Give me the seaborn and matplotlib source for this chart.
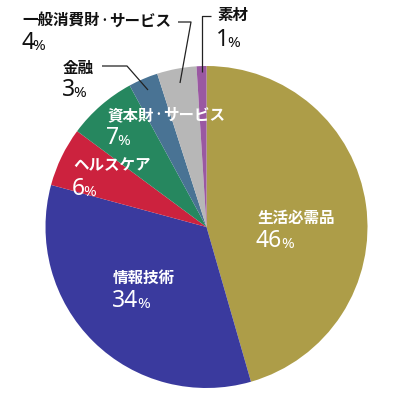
import matplotlib
matplotlib.use("Agg")
import matplotlib.pyplot as plt
import seaborn as sns

categories = ["生活必需品", "情報技術", "ヘルスケア", "資本財・サービス", "金融", "一般消費財・サービス", "素材"]
values = [46, 34, 6, 7, 3, 4, 1]
colors = ["#ad9d48", "#3a3a9e", "#cc223e", "#26875f", "#497394", "#b7b7b7", "#9a58a2"]

sns.set_theme(style="white")
plt.rcParams['font.family'] = ['Noto Sans CJK JP', 'DejaVu Sans']

W, H = 400, 396
fig = plt.figure(figsize=(W / 100, H / 100), dpi=100)
ax = fig.add_axes([0, 0, 1, 1])
ax.set_xlim(0, W)
ax.set_ylim(0, H)
ax.set_aspect('equal')
ax.axis('off')

cx, cy, r = 206.5, H - 227, 161
ax.pie(values, colors=colors, startangle=90, counterclock=False,
       center=(cx, cy), radius=r, wedgeprops=dict(linewidth=0))
ax.set_xlim(0, W)
ax.set_ylim(0, H)

# label positions (x left, name centre y, percent centre y) in pixel coords (y down)
label_pos = {
    "生活必需品": (257, 218, 241, "white"),
    "情報技術": (113, 278, 301, "white"),
    "ヘルスケア": (73, 165, 189, "white"),
    "資本財・サービス": (107, 115, 138, "white"),
    "金融": (63, 68, 90, "#111111"),
    "一般消費財・サービス": (22, 21, 43, "#111111"),
    "素材": (217, 15, 40, "#111111"),
}

fig.canvas.draw()
renderer = fig.canvas.get_renderer()
inv = ax.transData.inverted()


def right_edge(t):
    bb = t.get_window_extent(renderer=renderer)
    return inv.transform((bb.x1, bb.y0))[0]


cjk = ['Noto Sans CJK JP', 'DejaVu Sans']
for cat, val in zip(categories, values):
    x, yn, yp, col = label_pos[cat]
    kw = dict(fontsize=11.2, color=col, ha='left', va='center',
              fontweight='bold', family=cjk)
    if "・" in cat:
        a, b = cat.split("・")
        t1 = ax.text(x, H - yn, a, **kw)
        xe = right_edge(t1)
        kw_dot = dict(kw, fontsize=7)
        t2 = ax.text(xe + 0.1, H - yn, "・", **kw_dot)
        xe2 = right_edge(t2)
        ax.text(xe2 + 0.1, H - yn, b, **kw)
    else:
        ax.text(x, H - yn, cat, **kw)
    t = ax.text(x - 1, H - yp, str(val), fontsize=16.5, color=col, ha='left',
                va='center', family=['Noto Sans', 'DejaVu Sans'])
    x1 = right_edge(t)
    ax.text(x1 - 1.5, H - yp - 3.5, "%", fontsize=11, color=col, ha='left',
            va='center', family=['Noto Sans', 'DejaVu Sans'])

# leader lines (pixel coords, y down)
leaders = [
    [(201.7, 72), (201.7, 16), (211, 16)],
    [(180, 83), (191, 22), (178, 22)],
    [(148, 90), (127, 66), (102, 66)],
]
for pts in leaders:
    xs = [p[0] for p in pts]
    ys = [H - p[1] for p in pts]
    ax.plot(xs, ys, color="#222222", linewidth=0.9, solid_capstyle='butt')

fig.savefig("out.png", dpi=100)
